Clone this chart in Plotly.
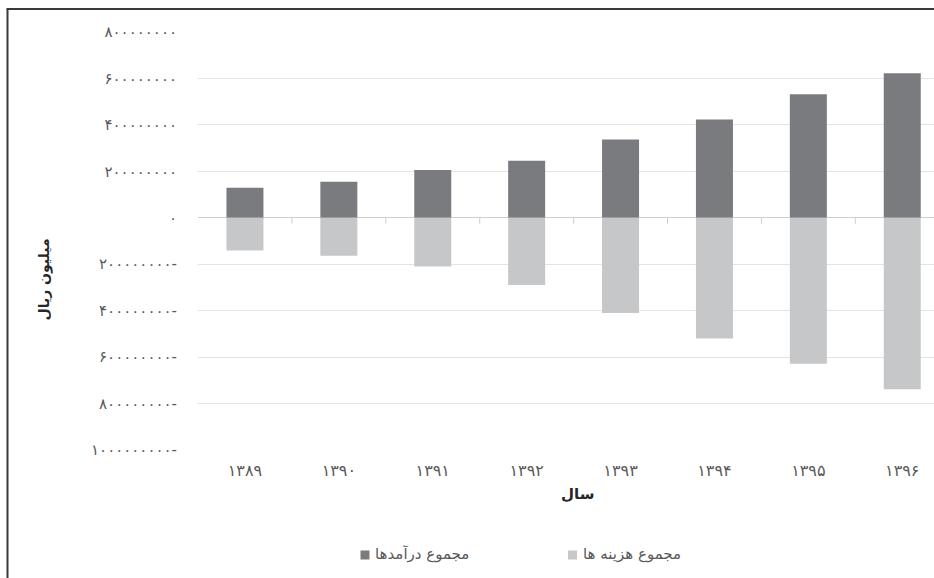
import plotly.graph_objects as go

# Fiscal years (Solar Hijri) and totals in million rials
years = [1389, 1390, 1391, 1392, 1393, 1394, 1395, 1396]
revenue = [129e6, 155e6, 206e6, 246e6, 337e6, 423e6, 532e6, 622e6]
expenses = [141e6, 163e6, 210e6, 290e6, 410e6, 520e6, 629e6, 738e6]

y_tick_values = [800e6, 600e6, 400e6, 200e6, 0, -200e6, -400e6, -600e6, -800e6, -1000e6]

revenue_name = "مجموع درآمدها"
expense_name = "مجموع هزینه ها"
y_title = "میلیون ریال"
x_title = "سال"

FA_DIGITS = str.maketrans("0123456789", "۰۱۲۳۴۵۶۷۸۹")


def to_fa(value):
    text = str(int(abs(value))).translate(FA_DIGITS)
    return text + "-" if value < 0 else text


year_labels = [to_fa(y) for y in years]
y_tick_text = [to_fa(v) for v in y_tick_values]

DARK = "#7a7b7f"
LIGHT = "#c6c7c9"
GRID = "#e3e3e3"
AXIS = "#cfcfcf"
TEXT = "#595959"
FONT = "DejaVu Sans"

W, H = 934, 578
L, R, T, B = 198, 0, 32, 128
PW, PH = W - L - R, H - T - B


def px_x(px):
    return (px - L) / PW


def px_y(py):
    return (H - B - py) / PH


fig = go.Figure()
fig.add_trace(go.Bar(x=year_labels, y=revenue, name=revenue_name,
                     marker=dict(color=DARK, line=dict(width=0))))
fig.add_trace(go.Bar(x=year_labels, y=[-v for v in expenses], name=expense_name,
                     marker=dict(color=LIGHT, line=dict(width=0))))

n = len(years)
x_range = [-0.5, -0.5 + PW / 93.9]
y_range = [-1000e6, 800e6]
units_per_px = (y_range[1] - y_range[0]) / PH

fig.update_layout(
    width=W, height=H,
    margin=dict(l=L, r=R, t=T, b=B),
    paper_bgcolor="white", plot_bgcolor="white",
    barmode="relative", bargap=0.606,
    showlegend=False,
    font=dict(family=FONT, color=TEXT, size=13),
    xaxis=dict(
        type="category", categoryorder="array", categoryarray=year_labels,
        range=x_range, showgrid=False, zeroline=False, showline=False,
        ticks="", ticklabelstandoff=9,
        tickfont=dict(family=FONT, size=16, color=TEXT),
    ),
    yaxis=dict(
        range=y_range, tickvals=y_tick_values, ticktext=y_tick_text,
        showgrid=True, gridcolor=GRID, gridwidth=1,
        zeroline=True, zerolinecolor=AXIS, zerolinewidth=1,
        showline=False, ticks="", ticklabelstandoff=20,
        tickfont=dict(family=FONT, size=15, color=TEXT),
    ),
)

# category-boundary tick marks hanging from the zero line
for i in range(n - 1):
    fig.add_shape(type="line", xref="x", yref="y",
                  x0=i + 0.5, x1=i + 0.5, y0=0, y1=-6 * units_per_px,
                  line=dict(color=AXIS, width=1), layer="above")

# outer frame (left and top edges)
frame_color = "#3a3a3a"
fig.add_shape(type="line", xref="paper", yref="paper",
              x0=px_x(7.5), x1=px_x(7.5), y0=px_y(9), y1=px_y(H + 2),
              line=dict(color=frame_color, width=2))
fig.add_shape(type="line", xref="paper", yref="paper",
              x0=px_x(6.5), x1=px_x(W + 2), y0=px_y(9), y1=px_y(9),
              line=dict(color=frame_color, width=2))

# axis titles
fig.add_annotation(text="<b>" + y_title + "</b>", xref="paper", yref="paper",
                   x=px_x(33), y=px_y(280), showarrow=False, textangle=-90,
                   font=dict(family=FONT, size=14, color="#262626"))
fig.add_annotation(text="<b>" + x_title + "</b>", xref="paper", yref="paper",
                   x=px_x(577), y=px_y(505), showarrow=False,
                   font=dict(family=FONT, size=15, color="#262626"))

# legend entries: swatch followed by label
legend_items = [(revenue_name, DARK, 365, 373), (expense_name, LIGHT, 572.5, 581)]
for name, color, sx, tx in legend_items:
    fig.add_shape(type="rect", xref="paper", yref="paper",
                  x0=px_x(sx - 4.5), x1=px_x(sx + 4.5),
                  y0=px_y(555 + 4.5), y1=px_y(555 - 4.5),
                  fillcolor=color, line=dict(width=0))
    fig.add_annotation(text=name, xref="paper", yref="paper",
                       x=px_x(tx), y=px_y(554), xanchor="left", yanchor="middle",
                       showarrow=False, font=dict(family=FONT, size=15, color=TEXT))

fig.write_html("out.html")
